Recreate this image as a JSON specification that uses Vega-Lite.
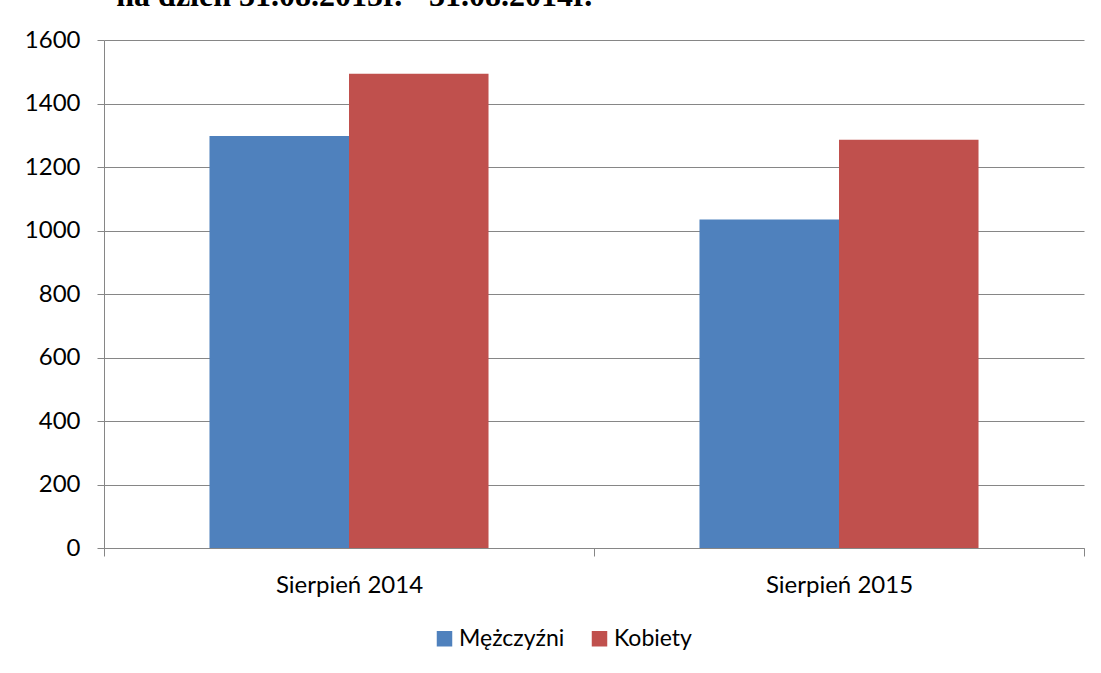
{
  "$schema": "https://vega.github.io/schema/vega-lite/v6.json",
  "width": 980,
  "height": 508,
  "autosize": {"type": "none"},
  "padding": {"left": 104, "top": 40, "right": 17, "bottom": 125},
  "background": "white",
  "title": {
    "text": "na dzień 31.08.2015r. - 31.08.2014r.",
    "anchor": "start",
    "font": "Liberation Serif",
    "fontSize": 32,
    "fontWeight": "bold",
    "color": "black",
    "baseline": "bottom",
    "offset": 14,
    "dy": 31,
    "dx": 92
  },
  "data": {
    "values": [
      {"okres": "Sierpień 2014", "plec": "Mężczyźni", "liczba": 1298},
      {"okres": "Sierpień 2014", "plec": "Kobiety", "liczba": 1494},
      {"okres": "Sierpień 2015", "plec": "Mężczyźni", "liczba": 1035},
      {"okres": "Sierpień 2015", "plec": "Kobiety", "liczba": 1286}
    ]
  },
  "mark": {"type": "bar"},
  "encoding": {
    "x": {
      "field": "okres",
      "type": "nominal",
      "title": null,
      "scale": {"paddingInner": 0, "paddingOuter": 0},
      "axis": {
        "labelAngle": 0,
        "labelFont": "Lato",
        "labelFontSize": 24,
        "labelColor": "black",
        "labelPadding": 17,
        "tickBand": "extent",
        "tickColor": "#868686",
        "tickSize": 8,
        "domainColor": "#868686",
        "grid": false
      }
    },
    "xOffset": {
      "field": "plec",
      "type": "nominal",
      "sort": ["Mężczyźni", "Kobiety"],
      "scale": {"paddingInner": 0, "paddingOuter": 0.756}
    },
    "y": {
      "field": "liczba",
      "type": "quantitative",
      "title": null,
      "scale": {"domain": [0, 1600], "nice": false},
      "axis": {
        "values": [0, 200, 400, 600, 800, 1000, 1200, 1400, 1600],
        "format": "d",
        "labelFont": "Lato",
        "labelFontSize": 24,
        "labelColor": "black",
        "labelPadding": 17,
        "tickColor": "#868686",
        "tickSize": 7,
        "domainColor": "#868686",
        "gridColor": "#868686",
        "gridOpacity": 1
      }
    },
    "color": {
      "field": "plec",
      "type": "nominal",
      "sort": ["Mężczyźni", "Kobiety"],
      "scale": {"domain": ["Mężczyźni", "Kobiety"], "range": ["#4F81BD", "#C0504D"]},
      "legend": {
        "title": null,
        "orient": "none",
        "legendX": 329,
        "legendY": 587,
        "direction": "horizontal",
        "symbolType": "square",
        "symbolSize": 240,
        "symbolStrokeWidth": 0,
        "symbolOpacity": 1,
        "labelFont": "Lato",
        "labelFontSize": 23,
        "labelColor": "black",
        "labelOffset": 3,
        "columnPadding": 23
      }
    }
  },
  "config": {"view": {"stroke": null}}
}
